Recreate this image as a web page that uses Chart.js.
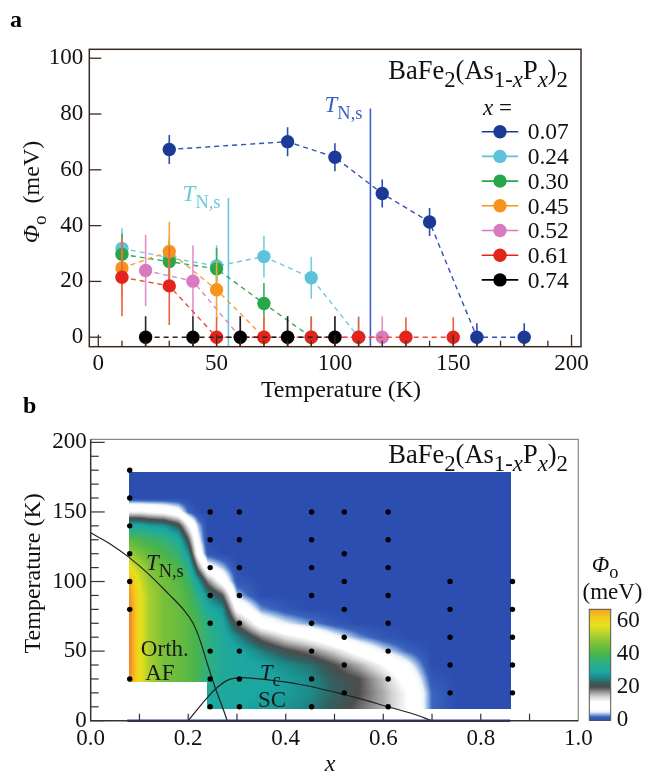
<!DOCTYPE html>
<html>
<head>
<meta charset="utf-8">
<title>BaFe2(As1-xPx)2</title>
<script src="https://cdn.jsdelivr.net/npm/chart.js@4.4.1/dist/chart.umd.min.js"></script>
<style>
  body { margin: 0; background: #fff; }
  #wrap { position: relative; width: 646px; height: 777px; overflow: hidden; }
  canvas { position: absolute; }
</style>
</head>
<body>
<div id="wrap">
  <canvas id="chartA" width="646" height="410" style="left:0;top:0"></canvas>
  <canvas id="chartB" width="646" height="387" style="left:0;top:390px"></canvas>
  <canvas id="chartC" width="86" height="190" style="left:560px;top:550px"></canvas>
</div>
<script>
Chart.defaults.font.family = '"Liberation Serif", "Times New Roman", serif';
Chart.defaults.color = '#111';
var SERIF = '"Liberation Serif", "Times New Roman", serif';

// ---------- panel a : Phi_o vs temperature ----------
var compLabels = ['0.07', '0.24', '0.30', '0.45', '0.52', '0.61', '0.74'];
var dotColors  = ['#1b3a98', '#5cc3da', '#2aa64a', '#f7941d', '#d77abf', '#e2241c', '#000000'];
var dashColors = ['#2f52b4', '#6fcbe0', '#35ac52', '#f6a03a', '#dc88c6', '#ea4a36', '#222222'];
var barColors  = ['#2c4cac', '#74cde2', '#3bb058', '#f7a63e', '#e092cc', '#f0603e', '#222222'];

var temp07 = [30, 80, 100, 120, 140, 160, 180];
var phi07  = [67.3, 70.1, 64.5, 51.5, 41.3, 0, 0];
var err07  = [5.2, 5.2, 5, 5, 5, 5, 5];
var temp24 = [10, 30, 50, 70, 90, 110];
var phi24  = [31.8, 28.5, 25.5, 28.9, 21.3, 0];
var err24  = [7.3, 7.5, 7.5, 7.5, 7.5, 7.5];
var temp30 = [10, 30, 50, 70, 90];
var phi30  = [29.7, 27.1, 24.5, 12.1, 0];
var err30  = [7.5, 7.5, 7.5, 7.3, 7.5];
var temp45 = [10, 30, 50, 70];
var phi45  = [24.8, 30.7, 17.0, 0];
var err45  = [10.5, 10.7, 10.5, 7.5];
var temp52 = [20, 40, 60, 80, 100, 120];
var phi52  = [23.9, 20.1, 0, 0, 0, 0];
var err52  = [12.8, 12.8, 7.5, 7.5, 7.5, 7.5];
var temp61 = [10, 30, 50, 70, 90, 110, 130, 150];
var phi61  = [21.5, 18.4, 0, 0, 0, 0, 0, 0];
var err61  = [14, 14, 7.2, 7.2, 7.2, 7.2, 7.2, 7.2];
var temp74 = [20, 40, 60, 80, 100];
var phi74  = [0, 0, 0, 0, 0];
var err74  = [7.5, 7.5, 7.5, 7.5, 7.5];

var seriesT   = [temp07, temp24, temp30, temp45, temp52, temp61, temp74];
var seriesPhi = [phi07, phi24, phi30, phi45, phi52, phi61, phi74];
var seriesErr = [err07, err24, err30, err45, err52, err61, err74];

// T_N,s markers for x = 0.07 and x = 0.24
var tnsTempA = [115, 55];
var tnsTopA  = [82, 50];
var tnsColorsA = ['#3a5fc8', '#6cc8dc'];

var aTicksX = [0, 50, 100, 150, 200];
var aTicksY = [0, 20, 40, 60, 80, 100];

// ---------- panel b : phase diagram map ----------
var bTicksX = [0, 0.2, 0.4, 0.6, 0.8, 1.0];
var bTicksY = [0, 50, 100, 150, 200];

var dotCols  = [0.08, 0.245, 0.305, 0.453, 0.52, 0.61, 0.737, 0.865];
var dotTemps = [
  [30, 80, 100, 120, 140, 160, 180],
  [10, 30, 50, 70, 90, 110, 130, 150],
  [10, 30, 50, 70, 90, 110, 130, 150],
  [10, 30, 50, 70, 90, 110, 130, 150],
  [20, 40, 60, 80, 100, 120, 150],
  [10, 30, 50, 70, 90, 110, 130, 150],
  [20, 40, 60, 80, 100],
  [20, 40, 60, 80, 100]
];

var tnsX = [0, 0.04, 0.08, 0.12, 0.16, 0.19, 0.21, 0.225, 0.24, 0.255, 0.27, 0.28];
var tnsY = [135, 127, 117, 105, 91, 80, 70, 57, 40, 24, 10, 0];
var tcX  = [0.20, 0.24, 0.26, 0.28, 0.31, 0.36, 0.43, 0.50, 0.55, 0.61, 0.66, 0.70];
var tcY  = [0, 17, 24, 29, 31, 29.5, 26, 20.5, 16, 10, 5, 0];
var baseX = [0.075, 0.86];
var baseY = [0, 0];

// map of Phi_o (meV): one column per x in gridX, values at gridT (10 K .. 180 K)
var gridX = [0.08, 0.10, 0.12, 0.15, 0.18, 0.20, 0.22, 0.24, 0.27, 0.30, 0.35, 0.40, 0.45, 0.50, 0.55, 0.60, 0.65, 0.70, 0.75, 0.86];
var gridT = [10, 20, 30, 40, 50, 60, 70, 80, 90, 100, 110, 120, 130, 140, 150, 160, 170, 180];
var phiCols = [
  [69, 69, 69, 70, 70, 70, 70, 70, 68, 66, 58, 50, 42, 30, 12, 0, 0, 0],
  [58, 58, 58, 58, 58, 58, 58, 58, 58, 56, 52, 46, 40, 30, 12, 0, 0, 0],
  [51, 51, 51, 51, 51, 51, 51, 51, 51, 49, 47, 43, 38, 28, 11, 0, 0, 0],
  [46, 46, 46, 46, 46, 46, 46, 46, 46, 45, 44, 40, 36, 27, 10, 0, 0, 0],
  [44, 44, 44, 44, 44, 44, 44, 44, 43, 42, 40, 36, 31, 22, 7, 0, 0, 0],
  [42, 42, 42, 42, 42, 42, 42, 41, 40, 38, 34, 27, 20, 12, 2, 0, 0, 0],
  [39, 39, 39, 39, 39, 39, 39, 37, 34, 28, 18, 9, 6, 4, 0, 0, 0, 0],
  [30, 30, 34, 35, 35, 35, 34, 31, 26, 18, 7, 1, 0, 0, 0, 0, 0, 0],
  [30, 30, 31, 31, 31, 31, 30, 27, 20, 9, 4, 0, 0, 0, 0, 0, 0, 0],
  [29, 30, 30, 30, 30, 26, 19, 10, 4, 1, 0, 0, 0, 0, 0, 0, 0, 0],
  [28, 29, 30, 29, 25, 18, 8, 3, 0, 0, 0, 0, 0, 0, 0, 0, 0, 0],
  [27, 28, 28, 26, 21, 13, 5, 1, 0, 0, 0, 0, 0, 0, 0, 0, 0, 0],
  [25, 26, 26, 24, 18, 10, 3, 0, 0, 0, 0, 0, 0, 0, 0, 0, 0, 0],
  [22, 23, 22, 20, 14, 6, 1, 0, 0, 0, 0, 0, 0, 0, 0, 0, 0, 0],
  [19, 20, 20, 16, 9, 3, 0, 0, 0, 0, 0, 0, 0, 0, 0, 0, 0, 0],
  [16, 16, 15, 11, 5, 1, 0, 0, 0, 0, 0, 0, 0, 0, 0, 0, 0, 0],
  [11, 11, 9, 6, 2, 0, 0, 0, 0, 0, 0, 0, 0, 0, 0, 0, 0, 0],
  [2, 2, 1, 0, 0, 0, 0, 0, 0, 0, 0, 0, 0, 0, 0, 0, 0, 0],
  [0, 0, 0, 0, 0, 0, 0, 0, 0, 0, 0, 0, 0, 0, 0, 0, 0, 0],
  [0, 0, 0, 0, 0, 0, 0, 0, 0, 0, 0, 0, 0, 0, 0, 0, 0, 0]
];
// extent of the map: AF part stops at 27.5 K, SC part goes down to 8 K
var mapX = [0.079, 0.239, 0.863];
var mapFloorT = [27.5, 8.2];
var mapTopT = 179;

var cmapVals   = [0, 2, 3.5, 5, 6.5, 11, 14, 17, 20, 23, 26, 29, 35, 40, 46, 52, 57, 62, 66, 70];
var cmapColors = ['#2b4eb0', '#3a64bd', '#8eb0e0', '#eef3fa', '#ffffff', '#ffffff', '#d6d6d6', '#979797',
                  '#4c4c4c', '#2f6262', '#1c8c8a', '#1aa6a4', '#30b07e', '#4ab44a', '#78c03a', '#b4d22c',
                  '#e6e01e', '#f3cc1c', '#f4aa22', '#f0842a'];
var cbarTicks = [0, 20, 40, 60];

// ---------- helpers ----------
function hexRgb(h) { return [parseInt(h.substr(1, 2), 16), parseInt(h.substr(3, 2), 16), parseInt(h.substr(5, 2), 16)]; }
var cmapRgb = cmapColors.map(hexRgb);

function colorAt(v) {
  if (v <= cmapVals[0]) return cmapRgb[0];
  for (var i = 1; i < cmapVals.length; i++) {
    if (v <= cmapVals[i]) {
      var f = (v - cmapVals[i - 1]) / (cmapVals[i] - cmapVals[i - 1]);
      var a = cmapRgb[i - 1], b = cmapRgb[i];
      return [a[0] + (b[0] - a[0]) * f, a[1] + (b[1] - a[1]) * f, a[2] + (b[2] - a[2]) * f];
    }
  }
  return cmapRgb[cmapRgb.length - 1];
}

function bracket(arr, v) {
  var n = arr.length;
  if (v <= arr[0]) return [0, 0, 0];
  if (v >= arr[n - 1]) return [n - 1, n - 1, 0];
  for (var i = 0; i < n - 1; i++) {
    if (v <= arr[i + 1]) return [i, i + 1, (v - arr[i]) / (arr[i + 1] - arr[i])];
  }
}

function phiAt(xv, tv) {
  var bx = bracket(gridX, xv), bt = bracket(gridT, tv);
  var c0 = phiCols[bx[0]], c1 = phiCols[bx[1]];
  var v0 = c0[bt[0]] + (c0[bt[1]] - c0[bt[0]]) * bt[2];
  var v1 = c1[bt[0]] + (c1[bt[1]] - c1[bt[0]]) * bt[2];
  return v0 + (v1 - v0) * bx[2];
}

// runs: {t, i (italic), b (bold), s (subscript)}; y is the vertical middle of the text
function drawRich(ctx, runs, x, y, size, align, color, rot, subScale) {
  var ss = subScale || 0.8;
  ctx.save();
  ctx.translate(x, y);
  if (rot) ctx.rotate(rot);
  function fontOf(r) { return (r.i ? 'italic ' : '') + (r.b ? 'bold ' : '') + (r.s ? size * ss : size) + 'px ' + SERIF; }
  var w = 0;
  runs.forEach(function (r) { ctx.font = fontOf(r); w += ctx.measureText(r.t).width; });
  var cx = align === 'left' ? 0 : (align === 'right' ? -w : -w / 2);
  ctx.fillStyle = color;
  ctx.textBaseline = 'alphabetic';
  ctx.textAlign = 'left';
  runs.forEach(function (r) {
    ctx.font = fontOf(r);
    ctx.fillText(r.t, cx, size * 0.33 + (r.s ? size * 0.3 : 0));
    cx += ctx.measureText(r.t).width;
  });
  ctx.restore();
}

var formulaRuns = [{t: 'BaFe'}, {t: '2', s: 1}, {t: '(As'}, {t: '1-', s: 1}, {t: 'x', s: 1, i: 1},
                   {t: 'P'}, {t: 'x', s: 1, i: 1}, {t: ')'}, {t: '2', s: 1}];
var tnsRuns = [{t: 'T', i: 1}, {t: 'N,s', s: 1}];

// ---------- panel a plugins ----------
var errorBars = {
  id: 'errorBars',
  beforeDatasetDraw: function (chart, args) {
    var ds = chart.data.datasets[args.index];
    if (!ds.errors) return;
    var ctx = chart.ctx, a = chart.chartArea, xs = chart.scales.x, ys = chart.scales.y;
    ctx.save();
    ctx.beginPath();
    ctx.rect(a.left, a.top, a.right - a.left, a.bottom - a.top);
    ctx.clip();
    ctx.strokeStyle = ds.barColor;
    ctx.lineWidth = 1.6;
    ds.data.forEach(function (p, i) {
      var px = xs.getPixelForValue(p.x);
      ctx.beginPath();
      ctx.moveTo(px, ys.getPixelForValue(p.y - ds.errors[i]));
      ctx.lineTo(px, ys.getPixelForValue(p.y + ds.errors[i]));
      ctx.stroke();
    });
    ctx.restore();
  }
};

var frameA = {
  id: 'frameA',
  afterDraw: function (chart) {
    var ctx = chart.ctx, a = chart.chartArea, xs = chart.scales.x, ys = chart.scales.y;
    ctx.save();
    ctx.strokeStyle = '#3a2a22';
    ctx.lineWidth = 1.5;
    ctx.strokeRect(a.left, a.top, a.right - a.left, a.bottom - a.top);
    ctx.lineWidth = 1.3;
    for (var k = 0; k <= 200; k += 10) {
      var px = xs.getPixelForValue(k), len = k % 50 === 0 ? 12 : 6;
      ctx.beginPath(); ctx.moveTo(px, a.bottom); ctx.lineTo(px, a.bottom - len); ctx.stroke();
    }
    aTicksY.forEach(function (v) {
      var py = ys.getPixelForValue(v);
      ctx.beginPath(); ctx.moveTo(a.left, py); ctx.lineTo(a.left + 12, py); ctx.stroke();
    });
    ctx.restore();

    // texts
    drawRich(ctx, [{t: 'a', b: 1}], 10, 19, 24, 'left', '#000');
    drawRich(ctx, formulaRuns, 568, 70, 26.5, 'right', '#111', 0, 0.86);
    drawRich(ctx, [{t: 'Temperature (K)'}], 341, 389, 24, 'center', '#111');
    drawRich(ctx, [{t: 'Φ', i: 1}, {t: 'o', s: 1}, {t: '  (meV)'}], 31, 192, 24, 'center', '#111', -Math.PI / 2);

    // T_N,s labels next to their lines
    tnsTempA.forEach(function (t, i) {
      var px = xs.getPixelForValue(t), py = ys.getPixelForValue(tnsTopA[i]);
      drawRich(ctx, tnsRuns, px - 8, py - 4, 23, 'right', tnsColorsA[i]);
    });

    // legend
    var lx = 481.7, ly = 131.7, dy = 24.7;
    drawRich(ctx, [{t: 'x', i: 1}, {t: ' ='}], 483, 107, 23, 'left', '#111');
    compLabels.forEach(function (lab, i) {
      var y = ly + i * dy;
      ctx.save();
      ctx.strokeStyle = dotColors[i];
      ctx.lineWidth = 1.6;
      ctx.beginPath(); ctx.moveTo(lx, y); ctx.lineTo(lx + 36.6, y); ctx.stroke();
      ctx.fillStyle = dotColors[i];
      ctx.beginPath(); ctx.arc(lx + 18.3, y, 6.7, 0, Math.PI * 2); ctx.fill();
      ctx.restore();
      drawRich(ctx, [{t: lab}], 527.7, y, 23.5, 'left', '#111');
    });
  }
};

var datasetsA = [];
seriesT.forEach(function (ts, i) {
  datasetsA.push({
    label: compLabels[i],
    data: ts.map(function (t, j) { return {x: t, y: seriesPhi[i][j]}; }),
    errors: seriesErr[i],
    barColor: barColors[i],
    showLine: true,
    borderColor: dashColors[i],
    borderWidth: 1.4,
    borderDash: [5, 4],
    pointRadius: 6.7,
    pointBackgroundColor: dotColors[i],
    pointBorderWidth: 0,
    order: 7 - i
  });
});
tnsTempA.forEach(function (t, i) {
  datasetsA.push({
    label: 'TNs' + i,
    data: [{x: t, y: -5}, {x: t, y: tnsTopA[i]}],
    showLine: true,
    borderColor: tnsColorsA[i],
    borderWidth: 1.6,
    pointRadius: 0,
    order: 20
  });
});

new Chart(document.getElementById('chartA'), {
  type: 'scatter',
  data: {datasets: datasetsA},
  options: {
    responsive: false, animation: false, devicePixelRatio: 1, events: [],
    layout: {padding: {left: 0, right: 65, top: 49.3, bottom: 0}, autoPadding: false},
    plugins: {legend: {display: false}, tooltip: {enabled: false}},
    scales: {
      x: {
        type: 'linear', min: -3.8, max: 204,
        afterBuildTicks: function (s) { s.ticks = aTicksX.map(function (v) { return {value: v}; }); },
        afterFit: function (s) { s.height = 63.3; },
        grid: {display: false, drawTicks: false}, border: {display: false},
        ticks: {padding: 3, font: {size: 23}, color: '#111', maxRotation: 0, autoSkip: false}
      },
      y: {
        type: 'linear', min: -3.4, max: 103.2,
        afterBuildTicks: function (s) { s.ticks = aTicksY.map(function (v) { return {value: v}; }); },
        afterFit: function (s) { s.width = 89.3; },
        grid: {display: false, drawTicks: false}, border: {display: false},
        ticks: {padding: 6, font: {size: 23}, color: '#111'}
      }
    }
  },
  plugins: [errorBars, frameA]
});

// ---------- panel b plugins ----------
var heatMap = {
  id: 'heatMap',
  beforeDatasetsDraw: function (chart) {
    var ctx = chart.ctx, xs = chart.scales.x, ys = chart.scales.y;
    var x0 = Math.round(xs.getPixelForValue(mapX[0])), x1 = Math.round(xs.getPixelForValue(mapX[2]));
    var y0 = Math.round(ys.getPixelForValue(mapTopT)), y1 = Math.round(ys.getPixelForValue(mapFloorT[1]));
    var w = x1 - x0, h = y1 - y0;
    var img = ctx.getImageData(x0, y0, w, h);
    for (var j = 0; j < h; j++) {
      var tv = ys.getValueForPixel(y0 + j + 0.5);
      for (var i = 0; i < w; i++) {
        var xv = xs.getValueForPixel(x0 + i + 0.5);
        var floorT = xv < mapX[1] ? mapFloorT[0] : mapFloorT[1];
        if (tv < floorT) continue;
        var c = colorAt(phiAt(xv, tv));
        var k = (j * w + i) * 4;
        img.data[k] = c[0]; img.data[k + 1] = c[1]; img.data[k + 2] = c[2]; img.data[k + 3] = 255;
      }
    }
    ctx.putImageData(img, x0, y0);
  }
};

var bNotes = [
  {runs: tnsRuns, x: 0.152, y: 114},
  {runs: [{t: 'Orth.'}], x: 0.152, y: 52},
  {runs: [{t: 'AF'}], x: 0.142, y: 35},
  {runs: [{t: 'T', i: 1}, {t: 'c', s: 1}], x: 0.368, y: 35},
  {runs: [{t: 'SC'}], x: 0.372, y: 15.6}
];

var frameB = {
  id: 'frameB',
  afterDraw: function (chart) {
    var ctx = chart.ctx, a = chart.chartArea, xs = chart.scales.x, ys = chart.scales.y;
    ctx.save();
    ctx.strokeStyle = '#8a8a8a';
    ctx.lineWidth = 1.2;
    ctx.beginPath(); ctx.moveTo(a.left, a.top); ctx.lineTo(a.right, a.top); ctx.lineTo(a.right, a.bottom); ctx.stroke();
    ctx.strokeStyle = '#333';
    ctx.lineWidth = 1.5;
    ctx.beginPath(); ctx.moveTo(a.left, a.top); ctx.lineTo(a.left, a.bottom); ctx.lineTo(a.right, a.bottom); ctx.stroke();
    ctx.lineWidth = 1.2;
    for (var t = 0; t <= 200; t += 10) {
      var py = ys.getPixelForValue(t), len = t % 50 === 0 ? 14 : 8;
      ctx.beginPath(); ctx.moveTo(a.left, py); ctx.lineTo(a.left + len, py); ctx.stroke();
    }
    for (var k = 1; k < 10; k++) {
      var px = xs.getPixelForValue(k / 10);
      ctx.beginPath(); ctx.moveTo(px, a.bottom); ctx.lineTo(px, a.bottom - 7); ctx.stroke();
    }
    ctx.restore();

    drawRich(ctx, [{t: 'b', b: 1}], 23, 15, 24, 'left', '#000');
    drawRich(ctx, formulaRuns, 568, 64, 26.5, 'right', '#111', 0, 0.86);
    drawRich(ctx, [{t: 'Temperature (K)'}], 31.7, 183.3, 24, 'center', '#111', -Math.PI / 2);
    drawRich(ctx, [{t: 'x', i: 1}], 330, 373, 24, 'center', '#111');
    bNotes.forEach(function (n) {
      drawRich(ctx, n.runs, xs.getPixelForValue(n.x), ys.getPixelForValue(n.y), 23, 'center', '#1a1a1a');
    });
  }
};

var dotData = [];
dotCols.forEach(function (xv, i) {
  dotTemps[i].forEach(function (t) { dotData.push({x: xv, y: t}); });
});

new Chart(document.getElementById('chartB'), {
  type: 'scatter',
  data: {
    datasets: [
      {label: 'points', data: dotData, pointRadius: 2.7, pointBackgroundColor: '#000', pointBorderWidth: 0, order: 1},
      {label: 'TNs', data: tnsX.map(function (v, i) { return {x: v, y: tnsY[i]}; }), showLine: true,
       cubicInterpolationMode: 'monotone', borderColor: '#222', borderWidth: 1.2, pointRadius: 0, order: 2},
      {label: 'Tc', data: tcX.map(function (v, i) { return {x: v, y: tcY[i]}; }), showLine: true,
       cubicInterpolationMode: 'monotone', borderColor: '#222', borderWidth: 1.2, pointRadius: 0, order: 3},
      {label: 'base', data: baseX.map(function (v, i) { return {x: v, y: baseY[i]}; }), showLine: true,
       borderColor: '#2a3f90', borderWidth: 2.5, pointRadius: 0, clip: false, order: 0}
    ]
  },
  options: {
    responsive: false, animation: false, devicePixelRatio: 1, events: [],
    layout: {padding: {left: 0, right: 67.7, top: 49.3, bottom: 0}, autoPadding: false},
    plugins: {legend: {display: false}, tooltip: {enabled: false}},
    scales: {
      x: {
        type: 'linear', min: 0, max: 1,
        afterBuildTicks: function (s) { s.ticks = bTicksX.map(function (v) { return {value: v}; }); },
        afterFit: function (s) { s.height = 56.3; },
        grid: {display: false, drawTicks: false}, border: {display: false},
        ticks: {padding: 4, font: {size: 23}, color: '#111', maxRotation: 0, autoSkip: false,
                callback: function (v) { return Number(v).toFixed(1); }}
      },
      y: {
        type: 'linear', min: 0, max: 202.2,
        afterBuildTicks: function (s) { s.ticks = bTicksY.map(function (v) { return {value: v}; }); },
        afterFit: function (s) { s.width = 90.7; },
        grid: {display: false, drawTicks: false}, border: {display: false},
        ticks: {padding: 4, font: {size: 23}, color: '#111'}
      }
    }
  },
  plugins: [heatMap, frameB]
});

// ---------- colour bar ----------
var colorBar = {
  id: 'colorBar',
  beforeDatasetsDraw: function (chart) {
    var ctx = chart.ctx, a = chart.chartArea, ys = chart.scales.y;
    ctx.save();
    for (var py = Math.floor(a.top); py < a.bottom; py++) {
      var c = colorAt(ys.getValueForPixel(py + 0.5));
      ctx.fillStyle = 'rgb(' + Math.round(c[0]) + ',' + Math.round(c[1]) + ',' + Math.round(c[2]) + ')';
      ctx.fillRect(a.left, py, a.right - a.left, 1);
    }
    ctx.strokeStyle = '#555';
    ctx.lineWidth = 1;
    ctx.strokeRect(a.left, a.top, a.right - a.left, a.bottom - a.top);
    ctx.restore();
    drawRich(ctx, [{t: 'Φ', i: 1}, {t: 'o', s: 1}], 45, 14, 23, 'center', '#111');
    drawRich(ctx, [{t: '(meV)'}], 52.5, 41, 23, 'center', '#111');
  }
};

new Chart(document.getElementById('chartC'), {
  type: 'scatter',
  data: {datasets: [{label: 'cbar', data: [], pointRadius: 0}]},
  options: {
    responsive: false, animation: false, devicePixelRatio: 1, events: [],
    layout: {padding: {left: 29.3, right: 0, top: 59.3, bottom: 16.7}, autoPadding: false},
    plugins: {legend: {display: false}, tooltip: {enabled: false}},
    scales: {
      x: {display: false, type: 'linear', min: 0, max: 1},
      y: {
        position: 'right', type: 'linear', min: 0, max: 67,
        afterBuildTicks: function (s) { s.ticks = cbarTicks.map(function (v) { return {value: v}; }); },
        afterFit: function (s) { s.width = 35.3; },
        grid: {display: false, drawTicks: false}, border: {display: false},
        ticks: {padding: 6, font: {size: 23}, color: '#111'}
      }
    }
  },
  plugins: [colorBar]
});
</script>
</body>
</html>
